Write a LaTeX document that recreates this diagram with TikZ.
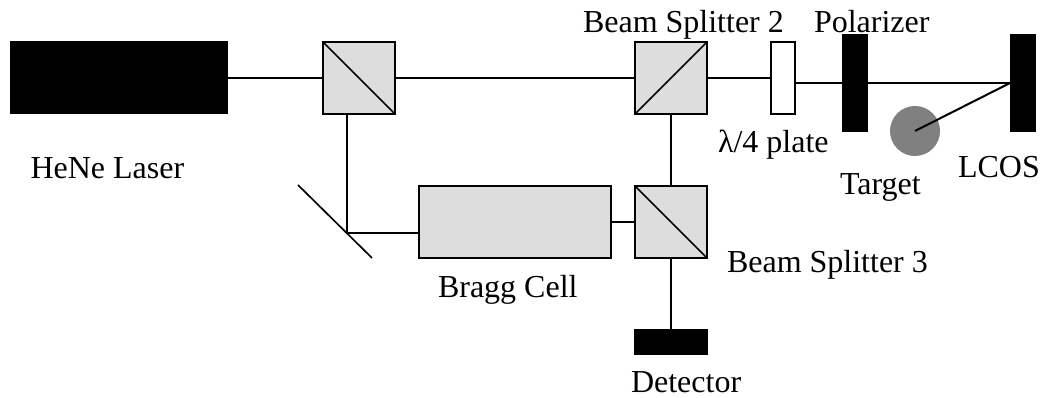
\documentclass[tikz,border=0pt]{standalone}
\usepackage{fontspec}
\setmainfont{Liberation Serif}
\definecolor{cubegray}{HTML}{DDDDDD}
\definecolor{targetgray}{HTML}{808080}
\tikzset{
  beam/.style={line width=1.5pt,black},
  optic/.style={draw=black,line width=1.5pt,fill=cubegray,inner sep=0pt,outer sep=0pt},
  cube/.style={optic,minimum width=54pt,minimum height=54pt},
  solid block/.style={fill=black,draw=none,inner sep=0pt,outer sep=0pt},
  lbl/.style={anchor=base west,inner sep=0pt,outer sep=0pt,font=\fontsize{24pt}{28pt}\selectfont,text=black}
}
\begin{document}
\begin{tikzpicture}[x=0.75pt,y=-0.75pt]
\useasboundingbox (0,0) rectangle (1042,398);
\fill[white] (0,0) rectangle (1042,398);
% solid blocks
\node[solid block,minimum width=163.5pt,minimum height=54.75pt] (laser) at (119,77.5) {};
\node[solid block,minimum width=19.5pt,minimum height=73.5pt] (pol) at (855,83) {};
\node[solid block,minimum width=19.5pt,minimum height=73.5pt] (lcos) at (1023,83) {};
\node[solid block,minimum width=55.5pt,minimum height=19.5pt] (det) at (671,342) {};
% cubes and cells
\node[cube] (bsa) at (359,78) {};
\node[cube] (bsb) at (671,78) {};
\node[cube] (bsc) at (671,222) {};
\node[optic,minimum width=144pt,minimum height=54pt] (bragg) at (515,222) {};
\node[optic,fill=white,minimum width=18pt,minimum height=54pt] (plate) at (783,78) {};
\node[circle,fill=targetgray,draw=none,inner sep=0pt,outer sep=0pt,minimum size=37.5pt] (target) at (915,131) {};
% cube diagonals
\draw[beam,line width=1.25pt] (bsa.north west) -- (bsa.south east);
\draw[beam,line width=1.25pt] (bsb.south west) -- (bsb.north east);
\draw[beam,line width=1.25pt] (bsc.north west) -- (bsc.south east);
% mirror
\coordinate (ma) at (298,185);
\coordinate (mb) at (372,258);
\coordinate (mhit) at (347,233.5);
\draw[beam,line width=1.25pt] (ma) -- (mb);
% beams
\draw[beam] (laser.east |- bsa.west) -- (bsa.west);
\draw[beam] (bsa.east) -- (bsb.west);
\draw[beam] (bsb.east) -- (plate.west);
\draw[beam] (plate.east |- pol.west) -- (pol.west);
\draw[beam] (pol.east) -- (lcos.west);
\draw[beam] (lcos.west) -- (target.center);
\draw[beam] (bsb.south) -- (bsc.north);
\draw[beam] (bsc.south) -- (det.north);
\draw[beam] (bragg.east) -- (bsc.west);
\draw[beam] (mhit) -- (mhit |- bsa.south);
\draw[beam] (mhit) -- (mhit -| bragg.west);
% labels
\node[lbl] (lhene) at (30.5,178.5) {HeNe Laser};
\node[lbl] (lbsb) at (583,33) {Beam Splitter 2};
\node[lbl] (lpol) at (814,32.5) {Polarizer};
\node[lbl] (lplate) at (718,153) {λ/4 plate};
\node[lbl] (ltarget) at (840,195) {Target};
\node[lbl] (llcos) at (958,178) {LCOS};
\node[lbl] (lbragg) at (438,298) {Bragg Cell};
\node[lbl] (lbsc) at (727,273) {Beam Splitter 3};
\node[lbl] (ldet) at (631,393) {Detector};
\end{tikzpicture}
\end{document}
